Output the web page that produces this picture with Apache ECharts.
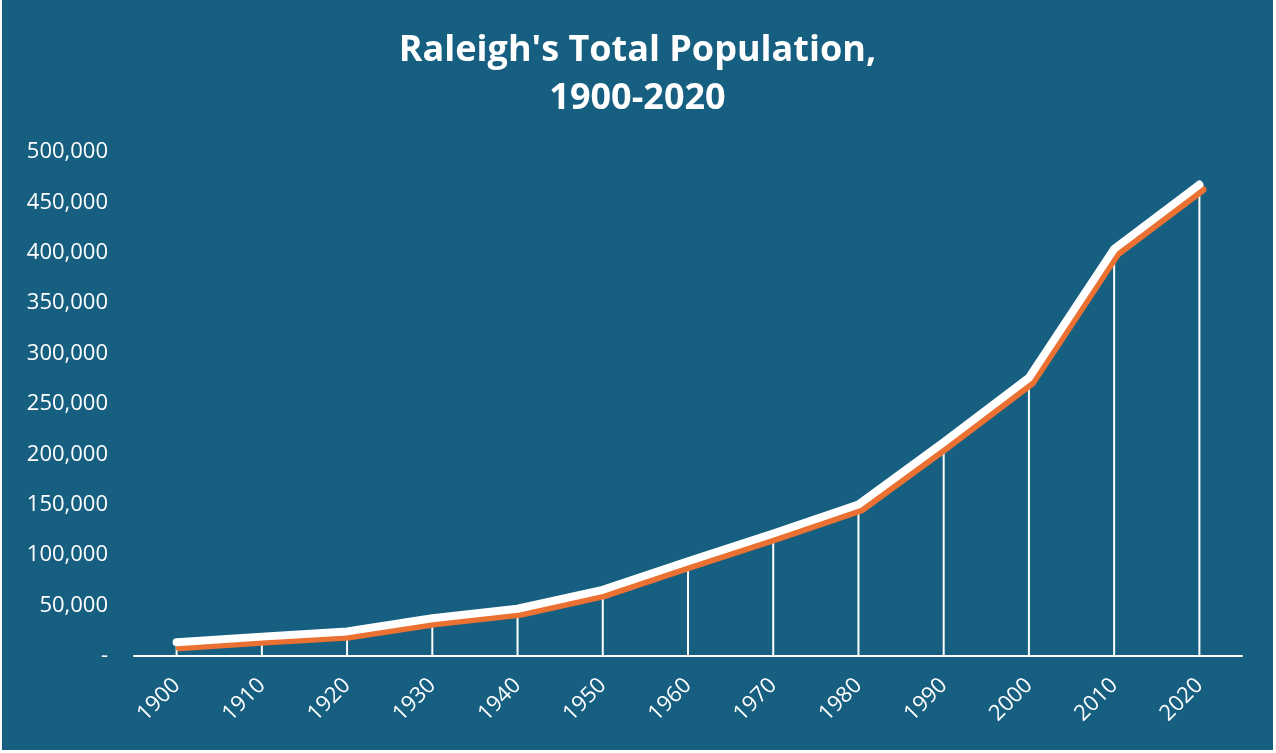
<!DOCTYPE html>
<html>
<head>
<meta charset="utf-8">
<script src="https://cdn.jsdelivr.net/npm/echarts@6/dist/echarts.min.js"></script>
<style>
  html, body { margin: 0; padding: 0; background: #ffffff; }
  #chart { position: absolute; left: 2px; top: 0; width: 1271px; height: 750px; }
</style>
</head>
<body>
<div id="chart"></div>
<script>
// Census years and Raleigh's total population for each
const years = ['1900','1910','1920','1930','1940','1950','1960','1970','1980','1990','2000','2010','2020'];
const population = [13643, 19218, 24418, 37379, 46897, 65679, 93931, 121577, 150255, 212092, 276093, 403892, 467665];
const titleLines = ["Raleigh's Total Population,", '1900-2020'];

const BG = '#175f80';
const chart = echarts.init(document.getElementById('chart'));

chart.setOption({
  backgroundColor: BG,
  animation: false,
  title: {
    text: titleLines.join('\n'),
    left: 'center',
    top: 22,
    textStyle: {
      color: '#ffffff',
      fontFamily: 'Open Sans',
      fontWeight: 'bold',
      fontSize: 36,
      lineHeight: 48
    }
  },
  grid: { left: 132, right: 31, top: 152, bottom: 94 },
  xAxis: {
    type: 'category',
    data: years,
    boundaryGap: true,
    axisLine: { lineStyle: { color: '#ffffff', width: 2 } },
    axisTick: { show: false },
    axisLabel: {
      color: '#ffffff',
      fontFamily: 'Open Sans',
      fontSize: 22,
      rotate: 45,
      margin: 26
    }
  },
  yAxis: {
    type: 'value',
    min: 0,
    max: 500000,
    interval: 50000,
    splitLine: { show: false },
    axisLine: { show: false },
    axisTick: { show: false },
    axisLabel: {
      color: '#ffffff',
      fontFamily: 'Open Sans',
      fontSize: 22,
      margin: 26,
      formatter: v => v === 0 ? '-' : v.toLocaleString('en-US')
    }
  },
  series: [
    {
      // thin drop lines from each census point to the axis
      type: 'bar',
      data: population,
      barWidth: 2,
      itemStyle: { color: '#ffffff' },
      z: 1
    },
    {
      type: 'line',
      data: population,
      symbol: 'none',
      z: 3,
      lineStyle: {
        color: '#ffffff',
        width: 8,
        cap: 'round',
        join: 'round',
        shadowColor: '#ea7131',
        shadowBlur: 0,
        shadowOffsetX: 3,
        shadowOffsetY: 5
      }
    }
  ]
});
</script>
</body>
</html>
